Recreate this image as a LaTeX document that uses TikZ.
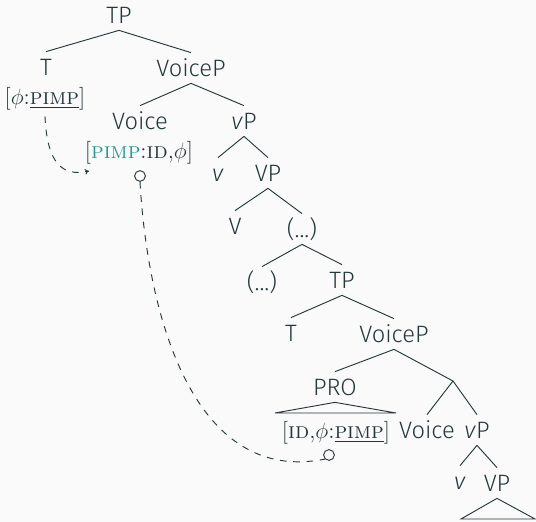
\documentclass[tikz,border=0pt]{standalone}
\usepackage{fontspec}
\setsansfont{Fira Sans Light}
\usepackage{xcolor}
\usepackage{amsmath, amssymb}
\usetikzlibrary{arrows.meta}

\definecolor{fondo}{HTML}{FAFAFA}
\definecolor{texto}{HTML}{23373B}
\definecolor{turq}{RGB}{35,153,150}

\tikzset{
  cat/.style={font=\fontsize{12.8}{15}\sffamily, text=texto, text height=8.8pt, text depth=0pt, inner sep=3.7pt},
  rasgo/.style={font=\fontsize{12.3}{15}\rmfamily, text=texto, inner sep=2pt},
  rama/.style={draw=texto, line width=0.5pt},
  ligado/.style={draw=texto, line width=0.5pt, dash pattern=on 3.6pt off 3.6pt},
  bolita/.style={circle, draw=texto, line width=0.5pt, minimum size=5.8pt, inner sep=0pt}
}

\begin{document}
\begin{tikzpicture}[x=0.54pt, y=-0.54pt]
  % Fondo
  \fill[fondo] (0,0) rectangle (536,522);
  \useasboundingbox (0,0) rectangle (536,522);

  % Arbol de arriba
  \node[cat] (tp) at (119,15) {TP};
  \node[cat] (t) at (46,67) {T};
  \node[cat] (voicep) at (191,68) {VoiceP};
  \node[cat] (voice) at (140,121) {Voice};
  \node[cat] (vp) at (244,121) {\textit{v}P};
  \node[cat] (v) at (218,173) {\textit{v}};
  \node[cat] (vP) at (268,173) {VP};
  \node[cat] (V) at (235,226) {V};
  \node[cat] (dots1) at (302,229) {(...)};
  \node[cat] (dots2) at (262,282) {(...)};

  % Rasgos
  \node[rasgo] (ft) at (45,99) {[$\phi$:\underline{\textsc{pimp}}]};
  \node[rasgo] (fvoice) at (139,153) {[\textcolor{turq}{\textsc{pimp}}:\textsc{id},$\phi$]};

  % Arbol incrustado
  \node[cat] (tp2) at (342,280) {TP};
  \node[cat] (t2) at (291,333) {T};
  \node[cat] (voicep2) at (394,334) {VoiceP};
  \node[cat] (pro) at (335,387) {PRO};
  \coordinate (bar) at (453,381);
  \node[cat] (voice2) at (427,430) {Voice};
  \node[cat] (vp2) at (477,430) {\textit{v}P};
  \node[cat] (v2) at (460,481) {\textit{v}};
  \node[cat] (vP2) at (497,483) {VP};
  \node[rasgo] (fpro) at (336,433) {[\textsc{id},$\phi$:\underline{\textsc{pimp}}]};

  % Triangulos
  \coordinate (proL) at (275,413);
  \coordinate (proR) at (396,413);
  \coordinate (vpL) at (461,519);
  \coordinate (vpR) at (535,519);

  % Conexiones
  \draw[rama] (tp.south) -- (t.north);
  \draw[rama] (tp.south) -- (voicep.north);
  \draw[rama] (voicep.south) -- (voice.north);
  \draw[rama] (voicep.south) -- (vp.north);
  \draw[rama] (vp.south) -- (v.north);
  \draw[rama] (vp.south) -- (vP.north);
  \draw[rama] (vP.south) -- (V.north);
  \draw[rama] (vP.south) -- (dots1.north);
  \draw[rama] (dots1.south) -- (dots2.north);
  \draw[rama] (dots1.south) -- (tp2.north);
  \draw[rama] (tp2.south) -- (t2.north);
  \draw[rama] (tp2.south) -- (voicep2.north);
  \draw[rama] (voicep2.south) -- (pro.north);
  \draw[rama] (voicep2.south) -- (bar);
  \draw[rama] (bar) -- (voice2.north);
  \draw[rama] (bar) -- (vp2.north);
  \draw[rama] (vp2.south) -- (v2.north);
  \draw[rama] (vp2.south) -- (vP2.north);
  \draw[rama] (pro.south) -- (proL) -- (proR) -- cycle;
  \draw[rama] (vP2.south) -- (vpL) -- (vpR) -- cycle;

  % Ligamientos
  \node[bolita] (o1) at (140,176) {};
  \node[bolita] (o2) at (329,455) {};
  \coordinate (meta) at (89,171);
  \draw[ligado, -{To[length=2.2pt, width=3pt]}] ([yshift=-1pt]ft.south)
    .. controls (47,163) and (62,177) .. (meta);
  \draw[ligado] (o1.south) .. controls (148,320) and (195,485) .. (o2.south west);
\end{tikzpicture}
\end{document}
